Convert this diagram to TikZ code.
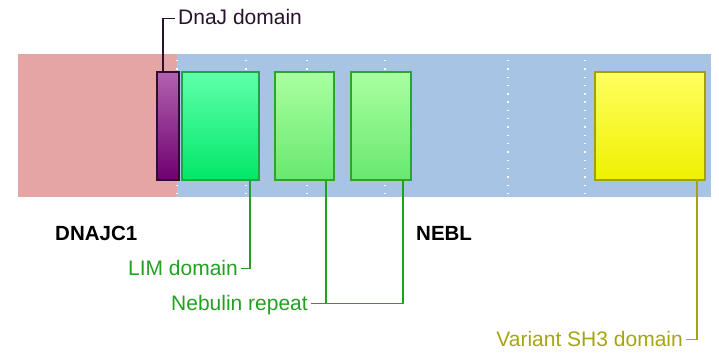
\documentclass[tikz,border=0pt]{standalone}
\usepackage{fontspec}
\setmainfont{Liberation Sans}
\begin{document}
\begin{tikzpicture}[x=1pt,y=-1pt,
  dom/.style={draw,line width=1.6pt,inner sep=0pt,anchor=north west,minimum height=108pt},
  lbl/.style={inner sep=0pt,inner xsep=3pt,text height=13pt,text depth=0pt,font=\fontsize{21}{24}\selectfont},
  gname/.style={inner sep=0pt,anchor=base west,font=\fontsize{20.5}{24}\selectfont\bfseries},
  conn/.style={line width=1.4pt},
  dots/.style={white,line width=1.5pt,dash pattern=on 1.4pt off 6.9pt}]
\definecolor{pinkbg}{RGB}{229,165,165}
\definecolor{bluebg}{RGB}{168,196,228}
\definecolor{lgreen}{RGB}{34,160,34}
\definecolor{olive}{RGB}{165,165,20}
\definecolor{djtext}{RGB}{42,16,48}
\useasboundingbox (0,0) rectangle (719,358);
% backgrounds
\fill[pinkbg] (18,54) rectangle (177,197);
\fill[bluebg] (177,54) rectangle (711,197);
% dotted separators
\foreach \xx in {177,246,307,385,508,585}
  \draw[dots] (\xx,60) -- (\xx,197);
% domains
\node[dom,draw={rgb,255:red,45;green,15;blue,45},top color={rgb,255:red,178;green,98;blue,178},bottom color={rgb,255:red,110;green,0;blue,110},minimum width=22pt] (dnaj) at (156,71) {};
\node[dom,draw={rgb,255:red,30;green,165;blue,60},top color={rgb,255:red,96;green,255;blue,170},bottom color={rgb,255:red,0;green,232;blue,104},minimum width=77pt] (lim) at (181,71) {};
\node[dom,draw={rgb,255:red,45;green,165;blue,45},top color={rgb,255:red,170;green,255;blue,160},bottom color={rgb,255:red,104;green,232;blue,112},minimum width=59pt] (nebA) at (274,71) {};
\node[dom,draw={rgb,255:red,45;green,165;blue,45},top color={rgb,255:red,170;green,255;blue,160},bottom color={rgb,255:red,104;green,232;blue,112},minimum width=60pt] (nebB) at (350,71) {};
\node[dom,draw={rgb,255:red,165;green,160;blue,0},top color={rgb,255:red,255;green,255;blue,96},bottom color={rgb,255:red,240;green,240;blue,0},minimum width=110pt] (sh3) at (594,71) {};
% group names
\node[gname] (gA) at (55,240) {DNAJC1};
\node[gname] (gB) at (416,240) {NEBL};
% labels
\node[lbl,anchor=base west,text=djtext] (djl) at (175,25) {DnaJ domain};
\node[lbl,anchor=base east,text=lgreen] (liml) at (241,275) {LIM domain};
\node[lbl,anchor=base east,text=lgreen] (nebl) at (311,310) {Nebulin repeat};
\node[lbl,anchor=base east,text=olive] (sh3l) at (686,346) {Variant SH3 domain};
% connector columns
\coordinate (cdj) at (163,0);
\coordinate (clim) at (250,0);
\coordinate (cnA) at (326,0);
\coordinate (cnB) at (403,0);
\coordinate (csh) at (697,0);
\draw[conn,djtext] (dnaj.north -| cdj) |- (djl.west);
\draw[conn,lgreen] (lim.south -| clim) |- (liml.east);
\draw[conn,lgreen] (nebA.south -| cnA) |- (nebl.east);
\draw[conn,lgreen] (nebB.south -| cnB) |- (nebl.east);
\draw[conn,olive] (sh3.south -| csh) |- (sh3l.east);
\end{tikzpicture}
\end{document}
